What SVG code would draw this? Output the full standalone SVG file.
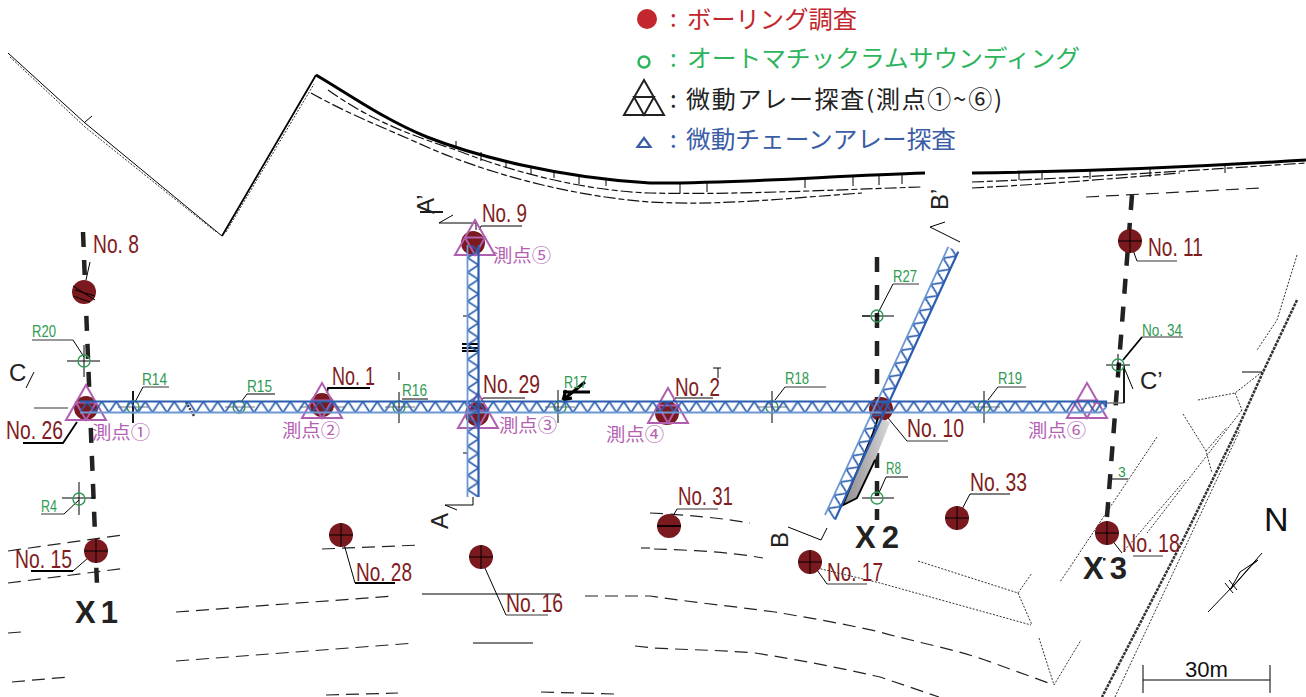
<svg xmlns="http://www.w3.org/2000/svg" width="1306" height="697" viewBox="0 0 1306 697">
<style>
text{font-family:"Liberation Sans","Noto Sans CJK JP",sans-serif}
.jp{font-family:"Noto Sans CJK JP",sans-serif;font-size:24px}
.no{font-size:25px;fill:#7f1d22}
.gn{font-size:17px;fill:#2f9a52}
.pu{font-family:"Noto Sans CJK JP",sans-serif;font-size:18px;fill:#b45fb2}
.x{font-size:31px;font-weight:700;fill:#222}
.sec{font-size:24px;fill:#222}
.bh{fill:#7a1a1e}
.tri{fill:none;stroke:#b05fb0;stroke-width:2}
.ring{fill:none;stroke:#2f9a52;stroke-width:1.4}
.k{fill:none;stroke:#000;stroke-width:1}
.k2{fill:none;stroke:#000;stroke-width:1.8}
.g{fill:none;stroke:#777;stroke-width:1.5}
.d1{fill:none;stroke:#111;stroke-width:1.2;stroke-dasharray:12 3 6 3}
.d2{fill:none;stroke:#333;stroke-width:1;stroke-dasharray:2 1.5}
.d3{fill:none;stroke:#222;stroke-width:1.2;stroke-dasharray:13 7}
.road{fill:none;stroke:#000;stroke-width:3}
.xl{fill:none;stroke:#222;stroke-width:4.5;stroke-dasharray:15 13}
.tb{stroke:#2a5db0;stroke-width:2.2;fill:none}
.tl{stroke:#6d97d3;stroke-width:1.8;fill:none}
</style>
<defs>
<pattern id="truss" patternUnits="userSpaceOnUse" width="14.5" height="11">
<path d="M0 11L7.25 0L14.5 11" fill="none" stroke="#2a5db0" stroke-width="1.7"/>
</pattern>
<linearGradient id="wedge" x1="0" y1="0" x2="1" y2="0">
<stop offset="0" stop-color="#8f8c8f"/><stop offset="1" stop-color="#d8d6d8"/>
</linearGradient>
<g id="tr3"><path class="tri" d="M0 -20L-20 15H20ZM-10 -2.500H10L0 15Z"/></g>
</defs>

<g id="site-lines">
<path class="k" d="M8 53L85 123L222 236"/>
<path class="d2" d="M10 57L85 127L216 232"/>
<path class="k" d="M85 122L92 116"/>
<path class="k2" d="M222 236L316 75"/>
<path class="d2" d="M226 232L314 84"/>
<path class="road" d="M316 75C350 95 385 120 427 137C475 156 560 178 650 183C730 184 830 176 925 173"/>
<path class="road" d="M972 173C1060 172 1180 168 1306 160"/>
<path class="d1" d="M311 93C350 115 385 128 427 147C480 170 560 195 650 202C720 206 790 198 862 193"/>
<path class="d1" d="M328 90C370 120 410 135 456 150C520 175 590 191 650 193C730 195 830 190 921 187"/>
<path class="d1" d="M972 182C1080 178 1200 170 1306 163"/>
<path class="d1" d="M972 188C1050 184 1120 178 1180 173"/>
<path class="d3" d="M1086 197L1260 188"/>
<path class="k" d="M456 141V149M481 152V161M506 160V168M531 166V174M554 170V178M579 175V184M606 178V186M680 184V193M707 183V192M805 179V188M853 177V186M879 176V185M902 175V184M1019 172V180M1042 172V180M1090 171V179M1150 169V177M1225 165V173"/>
<path class="d3" d="M8 551L122 535"/>
<path class="d3" d="M8 583L127 568"/>
<path class="d3" d="M176 612L394 596"/>
<path class="k" d="M422 594H560"/>
<path class="d3" d="M585 596H650C690 602 730 606 775 612C810 618 845 624 880 632C915 642 950 648 985 660L1054 685"/>
<path class="d3" d="M176 661L415 643"/>
<path class="k" d="M473 643H533"/>
<path class="d3" d="M635 646L654 648C690 650 720 650 755 653C800 660 840 668 880 677L939 697"/>
<path class="d3" d="M326 695L398 693"/>
<path class="d3" d="M541 692L614 694"/>
<path class="d3" d="M12 682L68 677"/>
<path class="d3" d="M8 633L21 632"/>
<path class="d3" d="M322 549L421 545"/>
<path class="k" d="M641 548H650"/>
<path class="d3" d="M650 513C690 515 720 518 750 523"/>
<path class="d3" d="M654 549C690 550 730 552 763 558"/>
<path class="d2" d="M918 561L1018 593"/>
<path class="d2" d="M1018 593L1032 573M1018 593L1032 625M817 568L880 583L1031 625M1039 638L1054 685L1081 640"/>
<path class="road" style="stroke:#333;stroke-width:2.500;stroke-dasharray:3 1" d="M1297 300L1263 372L1237 430L1183 540L1102 697"/>
<path class="d2" d="M1297 255L1277 320L1257 350"/>
<path class="d2" d="M1242 410L1147 533"/>
<path class="d2" d="M1157 437L1060 582"/>
<path class="d2" d="M1185 480L1123 552"/>
<path class="d2" d="M1198 400L1235 393L1262 372M1235 393L1242 410M1183 414L1206 451L1212 473M1206 451L1227 427"/>
<path class="k" d="M1242 372H1262"/>
<path class="d2" d="M1115 697L1240 430"/>
<path class="d2" style="stroke-width:2.500" d="M186 402L194 416"/>
<path class="k" d="M713 368H721M718 368V378M463 316H468M463 453H468M862 316H870"/>
<path class="k2" d="M462 344H478M462 348H478M462 351H478"/>
<path class="g" style="stroke-width:1" d="M118 407H148M225 407H255M300 407H345M385 407H415M545 407H575M757 407H787M970 407H1000"/>
</g>

<g id="connectors">
<path class="xl" d="M83 232L97 585"/>
<path class="xl" d="M877 257V520"/>
<path class="xl" d="M1132 195L1107 517"/>
<path class="k" d="M90 262L86 280"/>
<path class="k2" d="M23 443H63L77 422"/>
<path class="k2" d="M370 388H328L327 393"/>
<path class="k" d="M522 226H481L479 230"/>
<path class="k" d="M525 398H483L481 402"/>
<path class="k" d="M713 398H675L672 403"/>
<path class="g" d="M718 509H677"/><path class="k" d="M677 509L668 525"/>
<path class="g" d="M948 441H907"/><path class="k" d="M907 441L888 418"/>
<path class="k" d="M1010 494H970L960 513"/>
<path class="g" d="M1177 261H1137"/><path class="k" d="M1137 261L1130 242"/>
<path class="g" d="M1163 556H1133"/><path class="k" d="M1122 553L1108 535"/>
<path class="g" d="M867 584H827"/><path class="k" d="M827 584L812 563"/>
<path class="k2" d="M395 583H355"/><path class="k" d="M355 583L342 537"/>
<path class="g" d="M548 615H506"/><path class="k" d="M506 615L480 557"/>
<path class="k2" d="M31 571H73"/><path class="k" d="M73 571L95 552"/>
<path class="g" d="M32 340H73"/><path class="k" d="M73 340L84 357"/>
<path class="g" d="M169 387H143"/><path class="k" d="M143 387L135 402"/>
<path class="k" d="M275 394H247L241 402"/>
<path class="k" d="M428 399H402"/>
<path class="g" d="M826 387H785"/><path class="k" d="M785 387L775 400"/>
<path class="g" d="M1026 387H998"/><path class="k" d="M998 387L988 400"/>
<path class="g" d="M919 284H893"/><path class="k" d="M893 284L878 313"/>
<path class="k" d="M908 477H886L878 495"/>
<path class="g" d="M41 514H64"/><path class="k" d="M64 514L79 500"/>
<path class="g" d="M1183 337H1142"/><path class="k2" d="M1142 337L1123 360"/>
<path class="k" d="M1112 479H1128"/>
<path class="k" d="M439 223H476V230M439 223L453 215"/>
<path class="k" d="M420 212H443" style="stroke-width:1.800"/>
<path class="k" d="M473 497V505H445L457 510"/>
<path class="k" d="M960 242L930 227L945 222"/>
<path class="k" d="M827 528L821 540L788 527"/>
<path class="k" d="M34 372L26 388"/>
<path class="g" d="M34 408H68"/>
<path class="k" d="M1133 389L1123 365"/>
<path class="g" d="M1093 403H1124"/><path class="k2" d="M1124 365V403"/>
<path class="k" d="M1143 665V693M1270 665V693"/>
<path class="k" d="M1143 680H1270"/>
<path d="M1208 612L1234 585L1262 553" class="k"/>
<path d="M1230 590L1252 565L1258 560L1240 572Z" class="k"/>
<path d="M1225 583L1233 593M1229 580L1237 590" class="k"/>
<path class="k2" style="stroke-width:3" d="M585 382L563 400M563 392H590M563 400L572 398M563 400L566 390"/>
</g>

<g id="legend">
<circle cx="647" cy="19" r="10" fill="#c1272d"/>
<text x="670" y="27" class="jp" fill="#c1272d">:</text>
<text x="687" y="28" class="jp" fill="#c1272d" textLength="170" lengthAdjust="spacingAndGlyphs">ボーリング調査</text>
<circle cx="644" cy="62" r="5.500" fill="none" stroke="#2db55d" stroke-width="2.500"/>
<text x="670" y="67" class="jp" fill="#2db55d">:</text>
<text x="687" y="67" class="jp" fill="#2db55d" textLength="393" lengthAdjust="spacingAndGlyphs">オートマチックラムサウンディング</text>
<path d="M644 80L624 115H664ZM634 97H654L644 115Z" fill="none" stroke="#222" stroke-width="2"/>
<text x="670" y="108" class="jp" fill="#222">:</text>
<text x="686" y="108" class="jp" fill="#222" textLength="316" lengthAdjust="spacing">微動アレー探査(測点①~⑥)</text>
<path d="M644 138L637.500 147H650.500Z" fill="none" stroke="#3a5da5" stroke-width="2.200"/>
<text x="670" y="148" class="jp" fill="#3a5da5">:</text>
<text x="686" y="148" class="jp" fill="#3a5da5" textLength="270" lengthAdjust="spacingAndGlyphs">微動チェーンアレー探査</text>
</g>

<g id="boreholes">
<g id="no8"><circle class="bh" cx="84" cy="292" r="12"/><path class="k" d="M73 286L95 300M75 290L95 296M73 296L90 302"/><text class="no" x="93" y="253" textLength="46" lengthAdjust="spacingAndGlyphs">No. 8</text></g>
<g id="no26"><circle class="bh" cx="86" cy="408" r="12"/><text class="no" x="6" y="439" textLength="57" lengthAdjust="spacingAndGlyphs">No. 26</text></g>
<g id="no1"><circle class="bh" cx="322" cy="405" r="12"/><text class="no" x="332" y="385" textLength="43" lengthAdjust="spacingAndGlyphs">No. 1</text></g>
<g id="no9"><circle class="bh" cx="473" cy="243" r="12"/><text class="no" x="482" y="222" textLength="45" lengthAdjust="spacingAndGlyphs">No. 9</text></g>
<g id="no29"><circle class="bh" cx="477" cy="414" r="12"/><text class="no" x="483" y="393" textLength="57" lengthAdjust="spacingAndGlyphs">No. 29</text></g>
<g id="no2"><circle class="bh" cx="667" cy="413" r="12"/><text class="no" x="675" y="396" textLength="45" lengthAdjust="spacingAndGlyphs">No. 2</text></g>
<g id="no10"><circle class="bh" cx="881" cy="409" r="12"/><text class="no" x="907" y="437" textLength="57" lengthAdjust="spacingAndGlyphs">No. 10</text></g>
<g id="no11"><circle class="bh" cx="1130" cy="241" r="12"/><path class="k" d="M1118 241H1142M1130 229V253"/><text class="no" x="1148" y="256" textLength="55" lengthAdjust="spacingAndGlyphs">No. 11</text></g>
<g id="no18"><circle class="bh" cx="1107" cy="533" r="12"/><path class="k" d="M1095 533H1119M1107 521V545"/><text class="no" x="1122" y="552" textLength="58" lengthAdjust="spacingAndGlyphs">No. 18</text></g>
<g id="no33"><circle class="bh" cx="957" cy="518" r="12"/><path class="k" d="M945 518H969M957 506V530"/><text class="no" x="970" y="491" textLength="57" lengthAdjust="spacingAndGlyphs">No. 33</text></g>
<g id="no31"><circle class="bh" cx="669" cy="526" r="12"/><path class="k2" d="M657 526H681"/><text class="no" x="678" y="505" textLength="55" lengthAdjust="spacingAndGlyphs">No. 31</text></g>
<g id="no17"><circle class="bh" cx="810" cy="562" r="12"/><path class="k" d="M798 562H822M810 550V574"/><text class="no" x="827" y="581" textLength="56" lengthAdjust="spacingAndGlyphs">No. 17</text></g>
<g id="no16"><circle class="bh" cx="481" cy="557" r="12"/><path class="k" d="M469 557H493M481 545V569"/><text class="no" x="506" y="612" textLength="57" lengthAdjust="spacingAndGlyphs">No. 16</text></g>
<g id="no28"><circle class="bh" cx="341" cy="535" r="12"/><path class="k" d="M329 535H353M341 523V547"/><text class="no" x="356" y="581" textLength="56" lengthAdjust="spacingAndGlyphs">No. 28</text></g>
<g id="no15"><circle class="bh" cx="96" cy="551" r="12"/><path class="k" d="M84 551H108M96 539V563"/><text class="no" x="15" y="568" textLength="57" lengthAdjust="spacingAndGlyphs">No. 15</text></g>
</g>

<g id="stations">
<g id="s1"><use href="#tr3" x="86" y="405"/><text class="pu" x="92" y="439" textLength="58" lengthAdjust="spacingAndGlyphs">測点①</text></g>
<g id="s2"><use href="#tr3" x="322" y="403"/><text class="pu" x="282" y="437" textLength="58" lengthAdjust="spacingAndGlyphs">測点②</text></g>
<g id="s3"><use href="#tr3" x="478" y="413"/><text class="pu" x="499" y="432" textLength="58" lengthAdjust="spacingAndGlyphs">測点③</text></g>
<g id="s4"><use href="#tr3" x="668" y="408"/><text class="pu" x="606" y="441" textLength="58" lengthAdjust="spacingAndGlyphs">測点④</text></g>
<g id="s5"><use href="#tr3" x="475" y="240"/><text class="pu" x="493" y="262" textLength="58" lengthAdjust="spacingAndGlyphs">測点⑤</text></g>
<g id="s6"><use href="#tr3" x="1087" y="403"/><text class="pu" x="1028" y="437" textLength="58" lengthAdjust="spacingAndGlyphs">測点⑥</text></g>
</g>

<g id="wedge-shape">
<path d="M878 418L890 422L875 460L857 498L843 505L873 433Z" fill="url(#wedge)"/>
<path class="k2" d="M878 418L873 433L843 505L857 498L875 460"/>
</g>

<g id="sounding">
<g id="r20"><path class="k" d="M67 361H100M84 345V377"/><circle class="ring" cx="84" cy="361" r="6"/><text class="gn" x="32" y="337" textLength="24" lengthAdjust="spacingAndGlyphs">R20</text></g>
<g id="r14"><path class="k2" d="M133 391V423"/><circle class="ring" cx="133" cy="407" r="6"/><text class="gn" x="142" y="385" textLength="25" lengthAdjust="spacingAndGlyphs">R14</text></g>
<g id="r15"><circle class="ring" cx="239" cy="407" r="6"/><text class="gn" x="247" y="392" textLength="25" lengthAdjust="spacingAndGlyphs">R15</text></g>
<g id="r16"><path class="k" d="M399 372V380M399 392V423"/><circle class="ring" cx="399" cy="407" r="6"/><text class="gn" x="402" y="396" textLength="25" lengthAdjust="spacingAndGlyphs">R16</text></g>
<g id="r17"><path class="k" d="M558 390V423"/><circle class="ring" cx="560" cy="407" r="6"/><text class="gn" x="564" y="388" textLength="23" lengthAdjust="spacingAndGlyphs">R17</text></g>
<g id="r18"><path class="k" d="M772 391V423"/><circle class="ring" cx="772" cy="407" r="6"/><text class="gn" x="785" y="384" textLength="24" lengthAdjust="spacingAndGlyphs">R18</text></g>
<g id="r19"><path class="k" d="M984 391V423"/><circle class="ring" cx="984" cy="407" r="6"/><text class="gn" x="998" y="384" textLength="24" lengthAdjust="spacingAndGlyphs">R19</text></g>
<g id="r27"><path class="k" d="M862 316H894"/><circle class="ring" cx="877" cy="316" r="6"/><text class="gn" x="893" y="282" textLength="24" lengthAdjust="spacingAndGlyphs">R27</text></g>
<g id="r8"><path class="k" d="M862 498H894"/><circle class="ring" cx="877" cy="498" r="6"/><text class="gn" x="886" y="474" textLength="15" lengthAdjust="spacingAndGlyphs">R8</text></g>
<g id="r4"><path class="k" d="M62 498H95M79 482V515"/><circle class="ring" cx="79" cy="499" r="6"/><text class="gn" x="41" y="512" textLength="16" lengthAdjust="spacingAndGlyphs">R4</text></g>
<g id="no34"><path class="k" d="M1106 365H1130M1118 354V376"/><circle class="ring" cx="1118" cy="365" r="6"/><text class="gn" x="1142" y="336" textLength="40" lengthAdjust="spacingAndGlyphs">No. 34</text></g>
<text class="gn" x="1118" y="477" style="font-size:14px">3</text>
</g>

<g id="chain-arrays">
<g id="chain-h" transform="translate(80 401.500)"><rect width="1026" height="11" fill="url(#truss)"/><path class="tb" d="M0 0H1026L1026 6"/><path class="tl" d="M0 11H1020L1026 6"/></g>
<g id="chain-v" transform="translate(467.500 497) rotate(-90)"><rect width="252" height="11" fill="url(#truss)"/><path class="tl" d="M0 0H252"/><path class="tb" d="M0 11H252"/></g>
<g id="chain-d" transform="translate(825 515) rotate(-65.300)"><rect width="295" height="11" fill="url(#truss)"/><path class="tl" d="M0 0H295"/><path class="tb" d="M0 11H295"/></g>
</g>

<g id="labels">
<text class="x" x="75" y="623" textLength="43">X 1</text>
<text class="x" x="855" y="548" textLength="44">X 2</text>
<text class="x" x="1083" y="579" textLength="44">X 3</text>
<rect x="1103" y="558" width="2.500" height="2.500" fill="#222"/>
<text class="sec" transform="translate(434 214) rotate(-90)">A’</text>
<text class="sec" transform="translate(448 529) rotate(-90)">A</text>
<text class="sec" transform="translate(948 210) rotate(-90)">B’</text>
<text class="sec" transform="translate(788 548) rotate(-90)">B</text>
<text class="sec" x="9" y="381">C</text>
<text class="sec" x="1140" y="389">C’</text>
<text x="1264" y="531" fill="#111" font-size="34">N</text>
<text x="1185" y="677" fill="#111" font-size="22" textLength="43" lengthAdjust="spacingAndGlyphs">30m</text>
</g>
</svg>
